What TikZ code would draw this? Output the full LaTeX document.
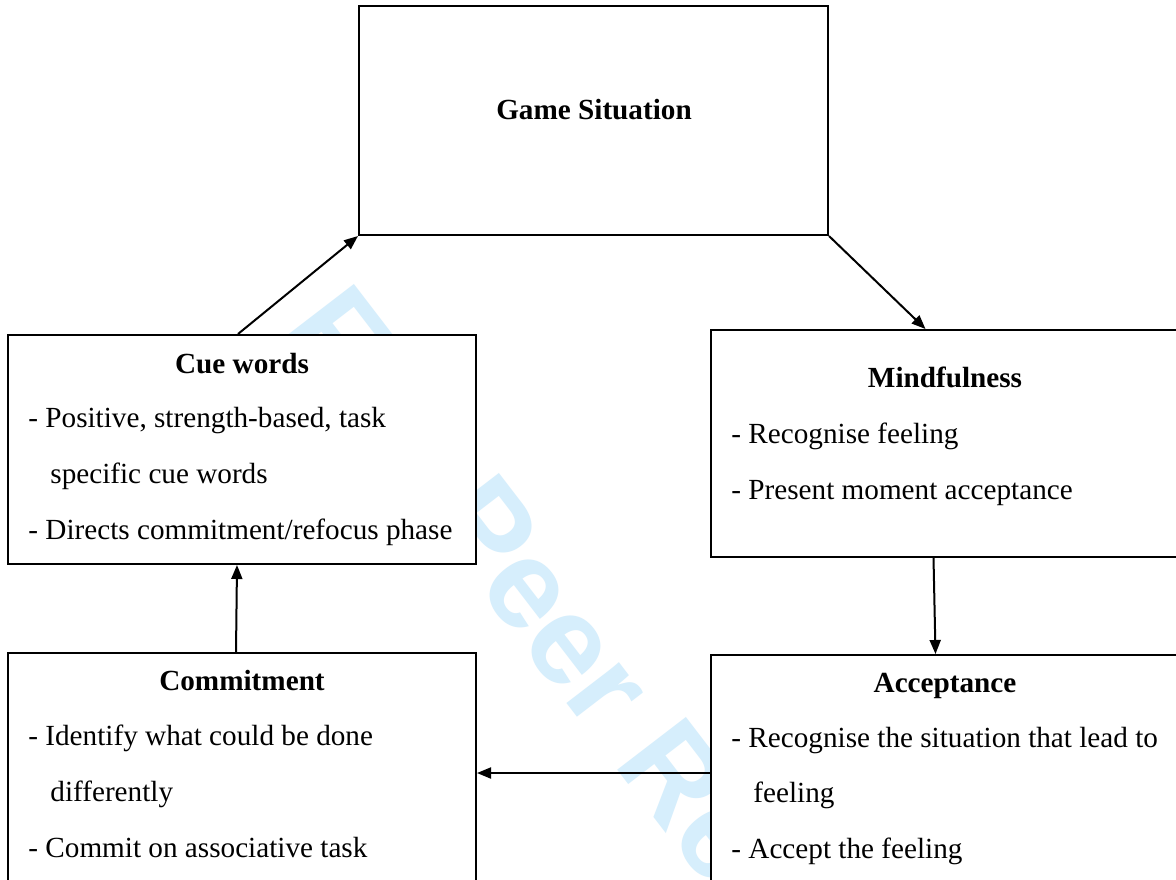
\documentclass[tikz,border=0pt]{standalone}
\usepackage{fontspec}
\setmainfont{Liberation Serif}
\newfontfamily\wmfont{Liberation Sans}
\usetikzlibrary{arrows.meta,calc}
\definecolor{wmblue}{RGB}{214,238,252}
\begin{document}
\begin{tikzpicture}[x=0.5pt,y=-0.5pt,
  box/.style={draw=black,line width=1pt,fill=white,rectangle,inner sep=0pt},
  ttl/.style={font=\fontsize{14.6pt}{28pt}\selectfont\bfseries,anchor=base,inner sep=0pt},
  body/.style={font=\fontsize{14.6pt}{28pt}\selectfont,anchor=base west,inner sep=0pt},
  arr/.style={line width=1pt,-{Triangle[length=7pt,width=5.5pt]}}]
\clip (0,0) rectangle (1176,879);
\fill[white] (0,0) rectangle (1176,879);
% watermark
\node[text=wmblue,font=\wmfont\bfseries\fontsize{63pt}{63pt}\selectfont,rotate=-52.5,anchor=base west,inner sep=0pt] (wm) at (280,330) {For Peer Review};
% boxes
\node[box,minimum width=234.5pt,minimum height=114.5pt] (game) at (593.5,120.5) {};
\node[box,minimum width=234pt,minimum height=114.5pt] (cue) at (242,449.5) {};
\node[box,minimum width=234.5pt,minimum height=113.5pt] (mind) at (945.5,443.5) {};
\node[box,minimum width=234pt,minimum height=119pt] (commit) at (242,772) {};
\node[box,minimum width=234.5pt,minimum height=118pt] (accept) at (945.5,773) {};
% texts
\node[ttl] (gamet) at (594,119) {Game Situation};
\node[ttl] (cuet) at (242,373) {Cue words};
\node[body] (cue1) at (28,427) {- Positive, strength-based, task};
\node[body] (cue2) at (50,483) {specific cue words};
\node[body] (cue3) at (28,539) {- Directs commitment/refocus phase};
\node[ttl] (mindt) at (945,387) {Mindfulness};
\node[body] (mind1) at (731,443) {- Recognise feeling};
\node[body] (mind2) at (731,499) {- Present moment acceptance};
\node[ttl] (committ) at (242,690) {Commitment};
\node[body] (commit1) at (28,745) {- Identify what could be done};
\node[body] (commit2) at (50,801) {differently};
\node[body] (commit3) at (28,857) {- Commit on associative task};
\node[ttl] (acceptt) at (945,692) {Acceptance};
\node[body] (accept1) at (731,747) {- Recognise the situation that lead to};
\node[body] (accept2) at (753,802) {feeling};
\node[body] (accept3) at (731,858) {- Accept the feeling};
% connectors
\draw[arr] ([xshift=-2pt]cue.north) -- (game.south west);
\draw[arr] (game.south east) -- ([xshift=-10pt]mind.north);
\draw[arr] ([xshift=-6pt]mind.south) -- ([xshift=-5pt]accept.north);
\draw[arr] (accept.west) -- (accept.west -| commit.east);
\draw[arr] ([xshift=-3pt]commit.north) -- ([xshift=-2.5pt]cue.south);
\end{tikzpicture}
\end{document}
